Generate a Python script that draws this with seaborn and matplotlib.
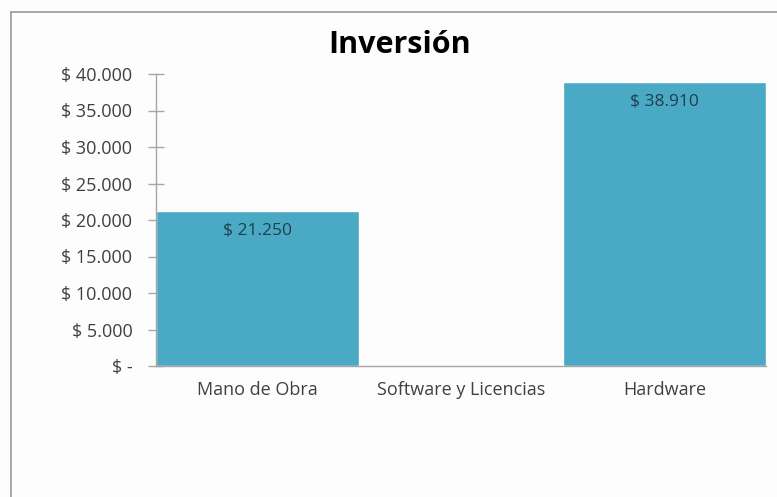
import matplotlib
matplotlib.use("Agg")
import matplotlib.pyplot as plt
import seaborn as sns
import pandas as pd
from matplotlib.ticker import FuncFormatter, MultipleLocator
from matplotlib.lines import Line2D

categories = ["Mano de Obra", "Software y Licencias", "Hardware"]
values = [21250, 0, 38910]
title = "Inversión"

sns.set_theme(style="white")
plt.rcParams['font.family'] = ['Open Sans', 'DejaVu Sans']

df = pd.DataFrame({"cat": categories, "val": values})

fig = plt.figure(figsize=(7.77, 4.97), dpi=100, facecolor="#fdfdfd")
ax = fig.add_axes([156/777, 1-366/497, (766-156)/777, (366-74)/497])
ax.set_facecolor("#fdfdfd")

sns.barplot(data=df, x="cat", y="val", color="#4aaac5", saturation=1, width=1.0, ax=ax)

def fmt(v, pos=None):
    if v == 0:
        return "$ -"
    return "$ " + f"{v:,.0f}".replace(",", ".")

ax.set_ylim(0, 40000)
ax.yaxis.set_major_locator(MultipleLocator(5000))
ax.yaxis.set_major_formatter(FuncFormatter(fmt))
ax.set_xlabel("")
ax.set_ylabel("")
for s in ["top", "right"]:
    ax.spines[s].set_visible(False)
ax.spines["left"].set_color("#a6a6a6")
ax.spines["bottom"].set_color("#a6a6a6")
ax.spines["left"].set_linewidth(1.0)
ax.spines["bottom"].set_linewidth(1.0)
ax.tick_params(axis="y", direction="inout", length=12, width=1, color="#a6a6a6",
               labelsize=13, labelcolor="#404040", pad=11, left=True)
ax.tick_params(axis="x", length=0, labelsize=13, labelcolor="#404040", pad=11)

for p, v in zip(ax.patches, values):
    if v:
        ax.annotate(fmt(v), (p.get_x() + p.get_width()/2, v), xytext=(0, -14),
                    textcoords="offset points", ha="center", va="center",
                    fontsize=12.5, color="#1f3f4a")

fig.text(400/777, 1-45/497, title, ha="center", va="center", fontsize=22,
         fontweight="bold", color="#000000")

fig.add_artist(Line2D([11/777, 1.0], [1-12/497, 1-12/497], transform=fig.transFigure,
                      color="#9a9a9a", lw=1.2))
fig.add_artist(Line2D([11/777, 11/777], [0.0, 1-12/497], transform=fig.transFigure,
                      color="#9a9a9a", lw=1.2))

fig.savefig("out.png", dpi=100, facecolor=fig.get_facecolor())
